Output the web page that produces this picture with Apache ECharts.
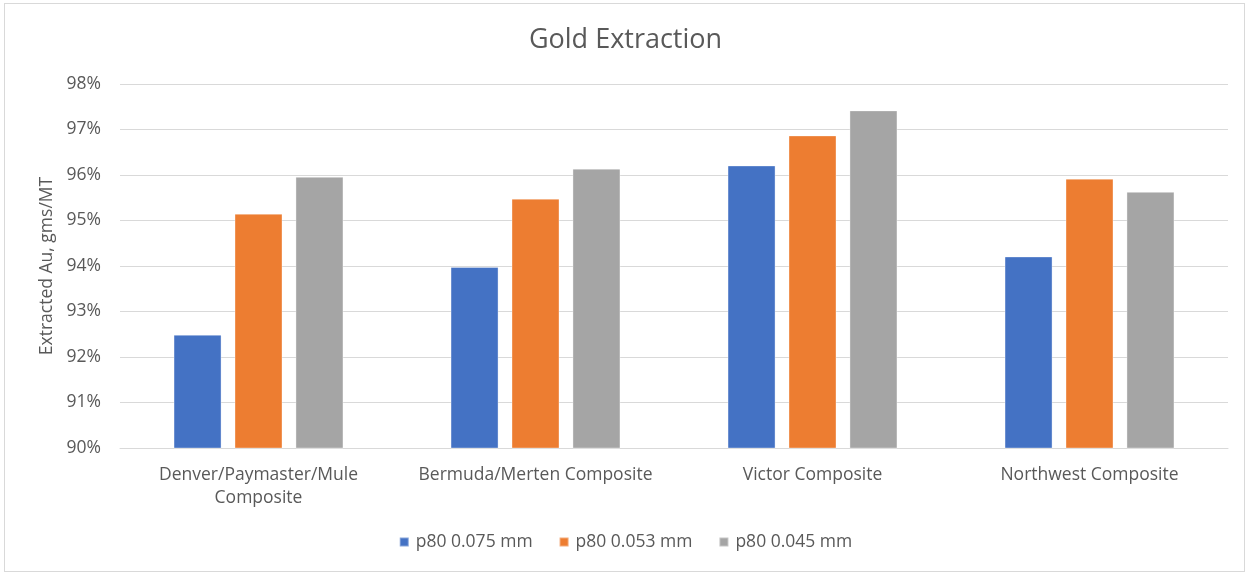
<!DOCTYPE html>
<html>
<head>
<meta charset="utf-8">
<script src="https://cdn.jsdelivr.net/npm/echarts@6/dist/echarts.min.js"></script>
<style>
  html, body { margin: 0; padding: 0; background: #fff; }
  #frame { position: absolute; left: 4px; top: 3px; width: 1241px; height: 569px; border: 1px solid #d9d9d9; box-sizing: border-box; }
  #chart { position: absolute; left: 0; top: 0; width: 1251px; height: 575px; }
</style>
</head>
<body>
<div id="frame"></div>
<div id="chart"></div>
<script>
// Gold extraction (%) per composite at three grind sizes
const categories = [
  'Denver/Paymaster/Mule\nComposite',
  'Bermuda/Merten Composite',
  'Victor Composite',
  'Northwest Composite'
];
const seriesNames = ['p80 0.075 mm', 'p80 0.053 mm', 'p80 0.045 mm'];
const p80_075 = [92.49, 93.98, 96.21, 94.21];
const p80_053 = [95.15, 95.48, 96.87, 95.92];
const p80_045 = [95.96, 96.14, 97.42, 95.63];
const colors = ['#4472C4', '#ED7D31', '#A5A5A5'];

const font = '"Open Sans", sans-serif';
const textColor = '#595959';

const chart = echarts.init(document.getElementById('chart'), null, { renderer: 'canvas' });

const seriesData = [p80_075, p80_053, p80_045];

chart.setOption({
  animation: false,
  backgroundColor: 'transparent',
  color: colors,
  title: {
    text: 'Gold Extraction',
    left: 'center',
    top: 22,
    textStyle: { fontFamily: font, fontSize: 27, fontWeight: 'normal', color: textColor }
  },
  legend: {
    bottom: 19,
    left: 'center',
    itemWidth: 9,
    itemHeight: 9,
    itemGap: 26,
    icon: 'rect',
    textStyle: { fontFamily: font, fontSize: 17.5, color: textColor, padding: [0, 0, 0, 2] },
    data: seriesNames
  },
  grid: { left: 120, right: 23, top: 84, bottom: 127, containLabel: false },
  xAxis: {
    type: 'category',
    data: categories,
    axisLine: { show: true, lineStyle: { color: '#d9d9d9', width: 1 } },
    axisTick: { show: false },
    axisLabel: {
      fontFamily: font, fontSize: 17.5, color: textColor,
      margin: 16, lineHeight: 23, interval: 0
    }
  },
  yAxis: {
    type: 'value',
    min: 90,
    max: 98,
    interval: 1,
    name: 'Extracted Au, gms/MT',
    nameLocation: 'middle',
    nameGap: 63,
    nameTextStyle: { fontFamily: font, fontSize: 17.5, color: textColor },
    axisLine: { show: false },
    axisTick: { show: false },
    axisLabel: {
      fontFamily: font, fontSize: 17.5, color: textColor, margin: 19,
      formatter: v => v + '%'
    },
    splitLine: { lineStyle: { color: '#d9d9d9', width: 1 } }
  },
  series: seriesNames.map((name, i) => ({
    name,
    type: 'bar',
    data: seriesData[i],
    barWidth: 48,
    barGap: '27%',
    itemStyle: { color: colors[i], borderColor: 'rgba(255,255,255,0.35)', borderWidth: 1 }
  }))
});
</script>
</body>
</html>
